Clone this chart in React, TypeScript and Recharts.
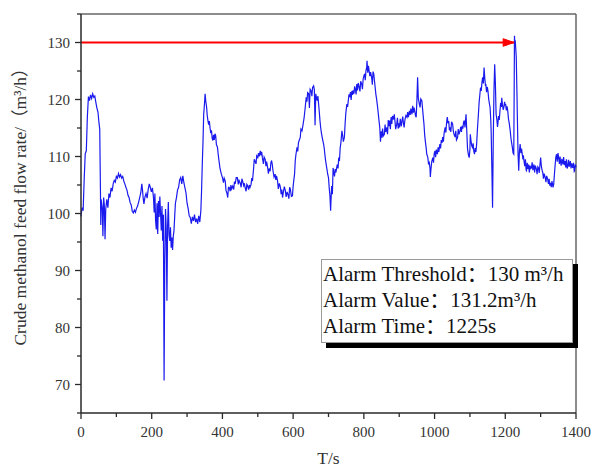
import React from 'react';
import { LineChart, Line, XAxis, YAxis, ReferenceLine } from 'recharts';

// ---- tick values ----
const xTicks = [0, 100, 200, 300, 400, 500, 600, 700, 800, 900, 1000, 1100, 1200, 1300, 1400];
const xMajorTicks = [0, 200, 400, 600, 800, 1000, 1200, 1400];
const yTicks = [65, 70, 75, 80, 85, 90, 95, 100, 105, 110, 115, 120, 125, 130, 135];
const yMajorTicks = [70, 80, 90, 100, 110, 120, 130];
const xDomain = [0, 1400];
const yDomain = [65, 135];

// ---- alarm info ----
const alarmThreshold = 130;
const alarmTime = 1225;
const alarmArrow = [
  { t: 0, thr: alarmThreshold },
  { t: alarmTime, thr: alarmThreshold },
];
const infoLines = ['Alarm Threshold：130 m³/h', 'Alarm Value：131.2m³/h', 'Alarm Time：1225s'];

// ---- crude methanol feed flow rate samples [time s, m³/h] ----
const flowSamples: [number, number][] = [
  [0, 99.5], [3, 101], [6, 100.5], [9, 106], [12, 110.5], [15, 111], [18, 117], [21, 120.5], [24, 119.8], [27, 120.8],
  [30, 120.2], [33, 121], [36, 120.4], [39, 120.6], [42, 119.5], [45, 118.5], [48, 117.8], [51, 115.8], [53, 114.8], [55, 104],
  [56, 98], [57, 102.5], [60, 101], [62, 96], [64, 102.8], [66, 101.5], [68, 95.5], [70, 100.8], [73, 102.5], [76, 101],
  [79, 103.5], [82, 102.8], [85, 104.5], [88, 103.9], [91, 105.2], [94, 105.8], [97, 105.5], [100, 106.5], [103, 106.2], [106, 107],
  [109, 106.4], [112, 106.8], [115, 106.2], [118, 106.5], [121, 105.7], [124, 105.2], [127, 104.6], [130, 104.1], [133, 103.2], [136, 102.8],
  [139, 101.9], [142, 101.5], [145, 100.4], [148, 100.1], [151, 100.6], [154, 100.2], [157, 100.9], [160, 101.3], [163, 102], [166, 102.8],
  [169, 103.6], [172, 105.2], [174, 104.1], [176, 102.6], [178, 101.7], [181, 102.9], [184, 103.5], [187, 102.7], [190, 104.2], [193, 105.2],
  [196, 104.6], [199, 103.8], [202, 104.5], [205, 102.8], [207, 100.2], [209, 103.5], [211, 98.7], [213, 97.2], [215, 101.8], [217, 96.4],
  [219, 102.2], [221, 99.4], [223, 103], [225, 100], [227, 97], [229, 101.3], [231, 95.2], [233, 99.8], [235, 70.7], [237, 92],
  [239, 100.8], [241, 97.5], [243, 84.7], [245, 98], [247, 102], [249, 96.3], [251, 95.2], [253, 97.6], [255, 94], [257, 95.8],
  [259, 93.6], [261, 96], [263, 97], [265, 99.5], [267, 101.8], [270, 102.8], [273, 104.1], [276, 104.6], [279, 105.9], [282, 106.3],
  [285, 105.2], [288, 106.6], [291, 105.4], [294, 104.5], [297, 103.6], [300, 101.8], [303, 100.9], [306, 99.6], [309, 99.3], [312, 98.2],
  [315, 99.4], [318, 98.7], [321, 99.8], [324, 98.5], [327, 99.1], [330, 98.2], [333, 99.6], [336, 98.5], [339, 100.5], [341, 104],
  [343, 108.6], [345, 112.4], [347, 117.4], [349, 119], [351, 121], [353, 119.6], [355, 118.8], [357, 117.2], [359, 116.3], [361, 115.6],
  [363, 116.2], [365, 115], [367, 114.1], [369, 114.6], [371, 113.2], [373, 112.8], [375, 113.8], [377, 112.9], [379, 114], [381, 113.6],
  [383, 112.1], [386, 111.6], [388, 110.4], [390, 109.4], [393, 108], [395, 107.4], [397, 106.9], [400, 106.3], [403, 105.4], [405, 106.2],
  [408, 105.7], [410, 104.1], [413, 103.5], [415, 102.8], [417, 104.6], [419, 104.6], [422, 103.9], [424, 105], [426, 104.3], [429, 104.8],
  [432, 104.2], [434, 105.6], [436, 105.2], [439, 106.3], [442, 106.3], [445, 105.1], [447, 105.8], [450, 105.4], [453, 104.6], [455, 106.1],
  [457, 105.7], [460, 104.9], [462, 105.3], [464, 104.6], [467, 103.9], [469, 105.1], [471, 104.9], [474, 104.2], [476, 105], [478, 104.6],
  [481, 105.1], [483, 106.2], [485, 105.7], [488, 107.8], [490, 109.5], [492, 109.2], [495, 108.7], [497, 110.1], [500, 109.8], [502, 110.6],
  [504, 110], [507, 111], [509, 110.2], [511, 110.8], [513, 109.8], [516, 108.7], [518, 109.9], [521, 109.5], [523, 108.3], [525, 109.1],
  [528, 108], [530, 107], [532, 107.9], [535, 107.4], [537, 108.9], [539, 109.3], [541, 108.6], [543, 107.5], [546, 106.4], [549, 106.9],
  [551, 105.9], [553, 106.6], [556, 105.7], [558, 104.3], [561, 105.3], [564, 104.6], [566, 103.4], [568, 104.2], [570, 102.8], [572, 103.6],
  [575, 104.7], [578, 104], [580, 102.9], [583, 103.8], [585, 103.4], [588, 102.6], [590, 104.6], [592, 104.3], [595, 103], [598, 103.1],
  [600, 104.8], [602, 105.9], [604, 106.9], [606, 109.3], [608, 110.4], [611, 111.6], [613, 110.9], [615, 112.4], [617, 112.8], [620, 113.3],
  [622, 114.8], [625, 114.5], [628, 115.6], [631, 116.8], [634, 118.5], [637, 120.4], [639, 119.6], [641, 121.2], [644, 121], [646, 118.5],
  [648, 121.8], [651, 121.5], [653, 120.6], [655, 122.1], [658, 122.4], [660, 121.7], [662, 115.5], [664, 121], [666, 120.3], [668, 119.8],
  [670, 120.6], [672, 119.2], [674, 117.8], [676, 116.2], [678, 115], [680, 114.1], [682, 113.4], [684, 112.8], [686, 112.2], [688, 111.4],
  [690, 110.2], [692, 109.2], [694, 108.4], [696, 107.6], [698, 106.8], [700, 106.3], [702, 104.5], [704, 103.2], [706, 100.5], [707, 102.2],
  [709, 104.8], [711, 103.4], [713, 108], [715, 107.2], [717, 106.5], [719, 107.8], [721, 107.2], [723, 108], [725, 108.6], [727, 107.9],
  [729, 109.8], [731, 109.2], [733, 111.5], [735, 112.4], [738, 114.5], [740, 113.7], [742, 112.6], [745, 113.4], [747, 115.8], [749, 117.6],
  [752, 119.2], [754, 118.7], [756, 119.8], [758, 120.9], [760, 120.4], [762, 121.3], [764, 119.9], [766, 121.5], [768, 120.8], [770, 121.6],
  [772, 121], [774, 122.3], [776, 121.8], [778, 120.9], [780, 122.7], [782, 121.6], [784, 122.9], [787, 122.1], [789, 121.4], [791, 123.2],
  [794, 122.7], [796, 121.8], [798, 123.6], [800, 124.1], [802, 124.5], [804, 123.4], [806, 125.1], [808, 125.6], [809, 126.8], [811, 124.7],
  [813, 125.9], [815, 125], [817, 124.1], [819, 124.8], [822, 123.9], [824, 122.6], [826, 124.9], [828, 124.5], [830, 123.3], [832, 122.1],
  [834, 120.9], [836, 120.1], [839, 118.6], [841, 117.4], [843, 116.2], [845, 115.1], [847, 112.6], [849, 114.4], [851, 113.3], [853, 114.9],
  [855, 113.6], [858, 113.9], [860, 115.6], [862, 114.3], [865, 115.1], [867, 113.9], [869, 116.4], [871, 115.3], [873, 116.3], [875, 114.8],
  [877, 116.9], [879, 115.7], [881, 117.1], [884, 116.5], [886, 117.4], [888, 116.2], [890, 114.8], [893, 115.7], [895, 116.8], [897, 114.9],
  [899, 115.8], [901, 115.1], [903, 116.6], [906, 115.3], [908, 116.3], [910, 117], [912, 115.8], [914, 115.1], [916, 116.4], [919, 117.2],
  [922, 116.9], [924, 117.8], [926, 116.9], [929, 118], [931, 117.3], [933, 118.4], [936, 117.4], [938, 118.9], [940, 117.7], [942, 118.6],
  [944, 117.9], [946, 117.2], [948, 116.9], [950, 119.8], [952, 123.9], [954, 120.2], [957, 119.2], [959, 118.6], [961, 120.1], [964, 119.8],
  [966, 118.4], [968, 117], [970, 115.7], [972, 113.8], [974, 112.6], [976, 111.6], [978, 110.4], [981, 109.8], [983, 108.6], [985, 108.9],
  [987, 108], [988, 106.4], [990, 107.9], [992, 109.1], [995, 109.8], [997, 108.9], [999, 110.5], [1001, 111], [1003, 109.9], [1005, 111.2],
  [1008, 110.4], [1010, 111.6], [1012, 110.8], [1015, 112.2], [1017, 111.4], [1019, 112.9], [1021, 112.4], [1023, 113.4], [1025, 112.6], [1027, 114.1],
  [1030, 115.1], [1032, 114.2], [1034, 116], [1036, 116.9], [1038, 115.8], [1040, 116.2], [1042, 114.6], [1044, 115.1], [1046, 114.3], [1048, 116.1],
  [1051, 115.7], [1053, 114.5], [1055, 113.9], [1058, 113.4], [1060, 114.5], [1062, 112.9], [1065, 113.3], [1067, 114.8], [1069, 113.9], [1072, 114.5],
  [1074, 115.2], [1076, 114.3], [1078, 115.4], [1080, 114.9], [1082, 116], [1084, 116.3], [1086, 115.1], [1089, 117.4], [1091, 114.6], [1093, 111.6],
  [1094, 111], [1096, 110.2], [1098, 109.8], [1100, 111.3], [1101, 113.9], [1103, 112.8], [1105, 111.9], [1107, 111.6], [1109, 112.3], [1111, 110.9],
  [1113, 110.4], [1115, 111.5], [1117, 110.8], [1119, 112.2], [1121, 114.6], [1123, 116.5], [1124, 117.4], [1126, 119.5], [1128, 120.8], [1130, 122.1],
  [1132, 121.5], [1134, 123], [1136, 123.9], [1138, 122.8], [1140, 125.6], [1142, 123.7], [1144, 122.4], [1145, 122.7], [1147, 121.3], [1149, 122.2],
  [1151, 121.5], [1153, 120.1], [1155, 119.3], [1157, 118.6], [1159, 116.3], [1160, 114.5], [1162, 108], [1164, 101], [1166, 113], [1168, 121.5],
  [1170, 126.2], [1172, 122.8], [1174, 117.4], [1176, 116.6], [1178, 115.2], [1179, 115.7], [1181, 117.1], [1183, 116.4], [1185, 118], [1187, 119.4],
  [1189, 118.7], [1190, 120.3], [1192, 119.1], [1194, 118.2], [1196, 118.6], [1198, 119.6], [1200, 118.9], [1201, 119.2], [1203, 118.1], [1205, 118.8],
  [1207, 118], [1209, 116.6], [1211, 115.9], [1214, 114.5], [1216, 113.2], [1218, 112.4], [1220, 111.6], [1222, 110.6], [1224, 110.4], [1225, 120],
  [1226, 131.2], [1227, 129.7], [1228, 130.4], [1230, 128.5], [1231, 127.4], [1233, 121], [1234, 117.4], [1236, 110.6], [1238, 107.5], [1240, 110.9],
  [1242, 112.2], [1244, 110.6], [1246, 111.4], [1248, 110.4], [1250, 109.5], [1251, 110.2], [1253, 109.2], [1255, 108.3], [1257, 109.5], [1259, 107.6],
  [1260, 107.5], [1262, 108.9], [1264, 107.8], [1266, 108.6], [1268, 107.2], [1270, 108.4], [1272, 107.9], [1274, 108], [1276, 109], [1278, 107.6],
  [1281, 108.6], [1283, 107.2], [1285, 108.4], [1288, 107.8], [1290, 106.9], [1292, 108.2], [1294, 108], [1296, 107.1], [1298, 108.5], [1300, 109.8],
  [1302, 108.3], [1304, 107.6], [1306, 107.2], [1308, 106.1], [1310, 107], [1313, 106.3], [1315, 105.5], [1317, 106.6], [1320, 106], [1322, 105.2],
  [1324, 106.1], [1326, 104.9], [1328, 105.4], [1330, 104.6], [1332, 105.7], [1335, 104.6], [1337, 105.2], [1339, 106.9], [1341, 108.5], [1343, 109.9],
  [1345, 110.4], [1347, 109.1], [1349, 110.6], [1351, 109.8], [1353, 108.7], [1355, 110], [1356, 109.2], [1358, 108.4], [1360, 109.6], [1363, 108.6],
  [1365, 109.9], [1367, 108.5], [1369, 109.2], [1371, 108.1], [1373, 109.5], [1375, 107.9], [1377, 108.3], [1379, 109.4], [1381, 108.2], [1384, 109.2],
  [1386, 107.9], [1388, 108.8], [1391, 108], [1393, 108.9], [1395, 107.4], [1396, 107.5], [1398, 108.6], [1400, 108.1],
];

const chartData = flowSamples.map(([t, v]) => ({ t, v }));

const SERIF = '"Liberation Serif", "Noto Sans CJK SC", serif';
const AXIS_COLOR = '#2a2a2a';
const TEXT_COLOR = '#333';

const XTick = (props: any) => {
  const { x, y, payload } = props;
  const major = xMajorTicks.includes(payload.value);
  return (
    <g>
      <line x1={x} x2={x} y1={y} y2={y + (major ? 6 : 4)} stroke={AXIS_COLOR} strokeWidth={1.3} />
      {major && (
        <text x={x} y={y + 24} textAnchor="middle" fontSize={15} fill={TEXT_COLOR} fontFamily={SERIF}>
          {payload.value}
        </text>
      )}
    </g>
  );
};

const YTick = (props: any) => {
  const { x, y, payload } = props;
  const major = yMajorTicks.includes(payload.value);
  return (
    <g>
      <line x1={x} x2={x - (major ? 6 : 4)} y1={y} y2={y} stroke={AXIS_COLOR} strokeWidth={1.3} />
      {major && (
        <text x={x - 11} y={y + 5} textAnchor="end" fontSize={15} fill={TEXT_COLOR} fontFamily={SERIF}>
          {payload.value}
        </text>
      )}
    </g>
  );
};

const ArrowDot = (props: any) => {
  const { cx, cy, index } = props;
  if (index !== alarmArrow.length - 1 || cx == null || cy == null) return <g key={`ad-${index}`} />;
  return (
    <polygon
      key={`ad-${index}`}
      points={`${cx},${cy} ${cx - 11},${cy - 3.8} ${cx - 11},${cy + 3.8}`}
      fill="#ff0000"
      stroke="#ff0000"
    />
  );
};

export default function App() {
  return (
    <div style={{ position: 'absolute', left: 0, top: 0, width: 591, height: 468, background: '#fff' }}>
      <LineChart width={591} height={468} data={chartData} margin={{ top: 14, right: 15, bottom: 0, left: 0 }}>
        <XAxis
          type="number"
          dataKey="t"
          domain={xDomain}
          ticks={xTicks}
          interval={0}
          tick={<XTick />}
          tickLine={false}
          tickSize={0}
          tickMargin={0}
          height={55}
          axisLine={{ stroke: AXIS_COLOR, strokeWidth: 1.5 }}
          label={{
            content: (p: any) => {
              const vb = p.viewBox || { x: 81, y: 413, width: 495, height: 55 };
              return (
                <text x={vb.x + vb.width / 2} y={vb.y + 51} textAnchor="middle" fontSize={17.5} fill={TEXT_COLOR} fontFamily={SERIF}>
                  T/s
                </text>
              );
            },
          }}
        />
        <YAxis
          type="number"
          domain={yDomain}
          ticks={yTicks}
          interval={0}
          tick={<YTick />}
          tickLine={false}
          tickSize={0}
          tickMargin={0}
          width={81}
          axisLine={{ stroke: AXIS_COLOR, strokeWidth: 1.5 }}
          label={{
            content: (p: any) => {
              const vb = p.viewBox || { x: 0, y: 14, width: 81, height: 399 };
              const cx = vb.x + 20;
              const cy = vb.y + vb.height / 2 - 11;
              return (
                <text
                  x={cx}
                  y={cy}
                  transform={`rotate(-90 ${cx} ${cy})`}
                  textAnchor="middle"
                  dominantBaseline="central"
                  fontSize={17.5}
                  fill={TEXT_COLOR}
                  fontFamily={SERIF}
                >
                  Crude methanol feed flow rate/（m³/h）
                </text>
              );
            },
          }}
        />
        <ReferenceLine y={yDomain[1]} stroke="#666" strokeWidth={1.5} />
        <ReferenceLine x={xDomain[1]} stroke="#666" strokeWidth={1.5} />
        <Line
          data={alarmArrow}
          dataKey="thr"
          stroke="#ff0000"
          strokeWidth={2}
          dot={<ArrowDot />}
          activeDot={false}
          isAnimationActive={false}
        />
        <Line
          dataKey="v"
          stroke="#1a1aee"
          strokeWidth={1.2}
          dot={false}
          activeDot={false}
          isAnimationActive={false}
        />
      </LineChart>
      <div
        style={{
          position: 'absolute',
          left: 321,
          top: 259,
          width: 252,
          height: 84,
          boxSizing: 'border-box',
          border: '1px solid #9a9a9a',
          boxShadow: '5px 5px 0 #000',
          background: '#fff',
          paddingTop: 2,
          paddingLeft: 1,
          fontFamily: SERIF,
          fontSize: 21,
          color: '#111',
          whiteSpace: 'nowrap',
        }}
      >
        {infoLines.map((s) => (
          <div key={s} style={{ height: 25.8, lineHeight: '25.8px' }}>
            {s}
          </div>
        ))}
      </div>
    </div>
  );
}
